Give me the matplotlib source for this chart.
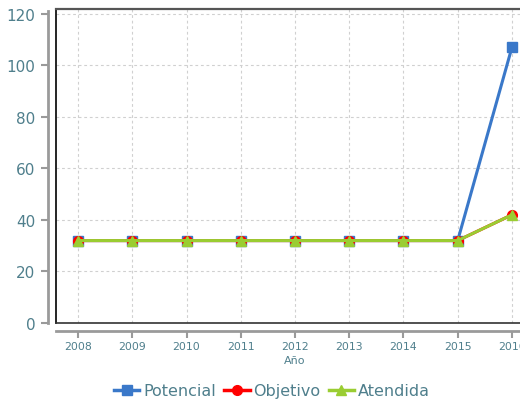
import matplotlib.pyplot as plt
from matplotlib.lines import Line2D

# data
years = [2008, 2009, 2010, 2011, 2012, 2013, 2014, 2015, 2016]
potencial = [32, 32, 32, 32, 32, 32, 32, 32, 107]
objetivo = [32, 32, 32, 32, 32, 32, 32, 32, 42]
atendida = [32, 32, 32, 32, 32, 32, 32, 32, 42]

txt = '#4f7f8c'
gray = '#9a9a9a'
fnt = 'DejaVu Sans'

fig = plt.figure(figsize=(5.2, 4.02), dpi=100)
ax = fig.add_axes([56/520, 78/402, 478/520, 314/402])

ax.plot(years, potencial, color='#3a78c9', lw=2.2, marker='s', ms=7, label='Potencial')
ax.plot(years, objetivo, color='#ff0000', lw=2.2, marker='o', ms=7, label='Objetivo')
ax.plot(years, atendida, color='#9acd32', lw=2.2, marker='^', ms=7, label='Atendida')

ax.set_xlim(2007.593, 2016.407)
ax.set_ylim(0, 121.9)
ax.set_xticks(years)
ax.set_yticks([0, 20, 40, 60, 80, 100, 120])

ax.grid(True, color='#d0d0d0', ls=(0, (2.5, 2.5)), lw=0.8)

# offset gray axes
for s in ['top', 'right']:
    ax.spines[s].set_visible(False)
for s in ['left', 'bottom']:
    ax.spines[s].set_position(('outward', 6))
    ax.spines[s].set_color(gray)
    ax.spines[s].set_linewidth(2)
ax.spines['left'].set_bounds(0, 121)

# black frame lines
ax.plot([0, 0], [0, 1], color='black', lw=1.2, transform=ax.transAxes, clip_on=False)
ax.plot([0, 1], [0, 0], color='#333333', lw=1.2, transform=ax.transAxes, clip_on=False)
ax.plot([0, 1], [1, 1], color='#555555', lw=1.6, transform=ax.transAxes, clip_on=False)

ax.tick_params(axis='y', colors=gray, labelcolor=txt, labelsize=11, length=5, width=1.5, pad=4)
ax.tick_params(axis='x', colors=gray, labelcolor=txt, labelsize=7.8, length=5, width=1.5, pad=2)
for lab in ax.get_xticklabels() + ax.get_yticklabels():
    lab.set_fontfamily(fnt)

ax.set_xlabel('Año', color=txt, fontsize=8, fontfamily=fnt, labelpad=3)

handles = [
    Line2D([], [], color='#3a78c9', lw=2.5, marker='s', ms=7),
    Line2D([], [], color='#ff0000', lw=2.5, marker='o', ms=7),
    Line2D([], [], color='#9acd32', lw=2.5, marker='^', ms=7),
]
leg = fig.legend(handles, ['Potencial', 'Objetivo', 'Atendida'], loc='center',
                 bbox_to_anchor=(272/520, 10/402), ncol=3, frameon=False,
                 handlelength=1.6, handletextpad=0.25, columnspacing=0.5,
                 prop={'family': fnt, 'size': 11.5})
for t in leg.get_texts():
    t.set_color(txt)

fig.savefig('out.png', dpi=100)
